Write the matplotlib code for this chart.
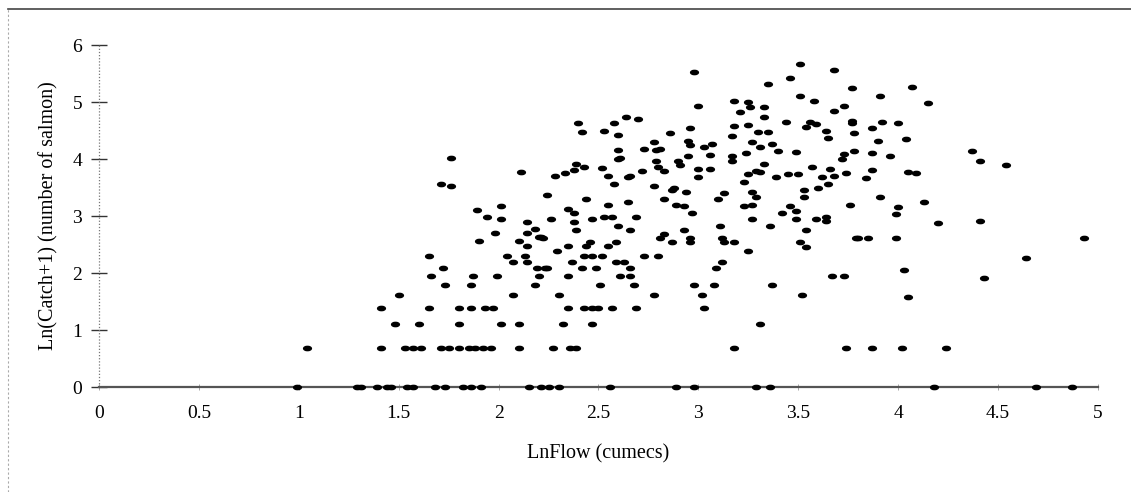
import matplotlib
matplotlib.use("Agg")
import matplotlib.pyplot as plt
from matplotlib.path import Path
from matplotlib.lines import Line2D

# ---- data: LnFlow (cumecs) vs Ln(Catch+1) ----
# zero-catch observations
flow_zero = [0.99, 1.29, 1.31, 1.39, 1.44, 1.46, 1.54, 1.57, 1.68, 1.73, 1.82, 1.86,
             1.91, 2.15, 2.21, 2.25, 2.30, 2.56, 2.89, 2.98, 3.29, 3.36, 4.18, 4.69, 4.87]
catch_zero = [0.0] * len(flow_zero)

# low catch (ln < 2.5)
flow_low = [1.04, 1.41, 1.53, 1.57, 1.61, 1.71, 1.75, 1.80, 1.85, 1.88, 1.92, 1.96, 2.10,
            2.27, 2.36, 2.39, 3.18, 3.74, 3.87, 4.02, 4.24,
            1.48, 1.60, 1.80, 2.01, 2.10, 2.32, 2.47, 3.31,
            1.41, 1.65, 1.80, 1.86, 1.93, 1.97, 2.35, 2.43, 2.47, 2.50, 2.57, 2.69, 3.03,
            1.50, 2.07, 2.30, 2.78, 3.02, 3.52, 4.05,
            1.73, 1.86, 2.18, 2.51, 2.68, 2.98, 3.08, 3.37,
            1.66, 1.87, 1.99, 2.20, 2.35, 2.61, 2.66, 3.67, 3.73, 4.43,
            1.72, 2.19, 2.23, 2.24, 2.42, 2.49, 2.66, 3.09, 4.03,
            2.07, 2.14, 2.37, 2.59, 2.63, 3.12,
            1.65, 2.04, 2.13, 2.43, 2.47, 2.52, 2.73, 2.80, 4.64,
            2.29, 3.25,
            2.14, 2.35, 2.44, 2.55, 3.54]
catch_low = [0.69] * 21 + [1.10] * 8 + [1.39] * 13 + [1.61, 1.61, 1.61, 1.61, 1.61, 1.61, 1.58] + \
            [1.79] * 8 + [1.95] * 9 + [1.92] + [2.08] * 8 + [2.06] + [2.20] * 6 + \
            [2.30] * 8 + [2.27] + [2.39, 2.39] + [2.48, 2.48, 2.48, 2.48, 2.46]

# mid catch (2.5 - 3.9)
flow_mid = [1.90, 2.10, 2.46, 2.59, 2.87, 2.96, 3.13, 3.18, 3.51,
            2.22, 2.81, 2.96, 3.12, 3.79, 3.80, 3.85, 3.99, 4.93,
            2.20, 2.21, 1.98, 2.14, 2.83,
            2.18, 2.39, 2.66, 2.93, 3.54,
            2.60, 3.11, 3.36, 4.20,
            2.14, 2.38,
            2.01, 2.26, 2.47, 3.27, 3.49, 3.59, 3.64, 4.41,
            1.94, 2.53, 2.57, 2.69, 3.64,
            2.38, 2.97, 3.42, 3.99,
            1.89, 2.01, 2.35, 3.49, 3.23, 3.46, 2.93, 4.00,
            2.55, 2.89, 3.27, 3.76, 4.13,
            2.65, 2.44, 2.83, 3.10, 3.29, 3.53, 3.91,
            2.24,
            3.13, 3.27, 3.53, 2.94, 2.87,
            1.71, 1.76, 2.58, 2.78, 2.88, 3.60, 3.65, 3.23,
            2.28, 2.33, 2.38, 2.55, 2.65, 2.66, 2.72, 2.83, 3.00, 3.00, 3.06, 3.25, 3.29,
            3.31, 3.39, 3.45, 3.50, 3.57, 3.62, 3.66, 3.68, 3.74, 3.84, 3.87, 4.05, 4.09,
            2.11, 2.43, 2.52, 2.80, 2.91]
catch_mid = [2.57, 2.57, 2.55, 2.55, 2.55, 2.55, 2.55, 2.55, 2.55,
             2.62, 2.62, 2.62, 2.62, 2.62, 2.62, 2.62, 2.62, 2.61,
             2.64, 2.64, 2.71, 2.71, 2.69,
             2.78, 2.76, 2.76, 2.76, 2.76,
             2.83, 2.83, 2.83, 2.87,
             2.89, 2.89,
             2.94, 2.94, 2.94, 2.94, 2.94, 2.94, 2.92, 2.92,
             2.99, 2.99, 2.99, 2.99, 2.98,
             3.05, 3.05, 3.05, 3.03,
             3.10, 3.17, 3.13, 3.08, 3.17, 3.17, 3.17, 3.15,
             3.20, 3.20, 3.20, 3.20, 3.24,
             3.25, 3.29, 3.29, 3.29, 3.33, 3.33, 3.34,
             3.36,
             3.40, 3.43, 3.45, 3.42, 3.45,
             3.56, 3.52, 3.56, 3.52, 3.49, 3.50, 3.56, 3.59,
             3.71, 3.75, 3.80, 3.71, 3.68, 3.71, 3.79, 3.79, 3.68, 3.82, 3.82, 3.73, 3.79,
             3.77, 3.68, 3.73, 3.73, 3.86, 3.68, 3.82, 3.71, 3.75, 3.66, 3.80, 3.77, 3.75,
             3.77, 3.86, 3.84, 3.86, 3.89]

# high catch (>= 3.9)
flow_high = [2.39, 2.79, 2.90, 3.17, 3.33, 3.72, 4.41, 4.54, 2.60, 2.61, 1.76,
             2.95, 3.06, 3.17, 3.24, 3.40, 3.49, 3.73, 3.78, 3.87, 3.96, 4.37,
             2.60, 2.73, 2.79, 2.81,
             3.03, 3.07, 3.31, 3.37, 3.27, 2.78, 2.95, 2.96, 3.17, 3.65, 3.90, 4.04,
             2.42, 2.53, 2.60, 2.86, 2.96, 3.30, 3.35, 3.64, 3.78, 3.18, 3.25, 3.54, 3.87,
             2.40, 2.58, 2.64, 2.70, 3.33, 3.44, 3.56, 3.59, 3.77, 3.77, 3.92, 4.00,
             3.21, 3.26, 3.33, 3.68, 3.73, 3.00, 3.18, 3.25, 3.58, 3.51, 3.91, 4.15,
             2.98, 3.35, 3.46, 3.51, 3.68, 3.77, 4.07]
catch_high = [3.91, 3.96, 3.96, 3.96, 3.91, 4.00, 3.96, 3.89, 4.00, 4.01, 4.01,
              4.05, 4.07, 4.05, 4.10, 4.14, 4.12, 4.08, 4.14, 4.10, 4.05, 4.14,
              4.15, 4.17, 4.15, 4.17,
              4.21, 4.26, 4.21, 4.26, 4.30, 4.30, 4.31, 4.24, 4.40, 4.37, 4.31, 4.35,
              4.47, 4.49, 4.42, 4.45, 4.54, 4.47, 4.47, 4.49, 4.45, 4.58, 4.60, 4.56, 4.54,
              4.63, 4.63, 4.74, 4.70, 4.74, 4.65, 4.65, 4.61, 4.67, 4.63, 4.65, 4.63,
              4.82, 4.91, 4.91, 4.84, 4.93, 4.93, 5.02, 5.00, 5.02, 5.10, 5.10, 4.98,
              5.53, 5.32, 5.42, 5.67, 5.56, 5.25, 5.27]

x_ticks = [0, 0.5, 1, 1.5, 2, 2.5, 3, 3.5, 4, 4.5, 5]
x_tick_labels = ["0", "0.5", "1", "1.5", "2", "2.5", "3", "3.5", "4", "4.5", "5"]
y_ticks = [0, 1, 2, 3, 4, 5, 6]

# ---- plotting ----
plt.rcParams['font.family'] = ['Liberation Serif', 'DejaVu Serif']

fig = plt.figure(figsize=(11.31, 4.92), dpi=100)
ax = fig.add_axes([0.0875, 0.2134, 0.8833, 0.6951])

circ = Path.unit_circle()
ellipse = Path(circ.vertices * [1.0, 0.55], circ.codes)

for fx, cy in [(flow_zero, catch_zero), (flow_low, catch_low),
               (flow_mid, catch_mid), (flow_high, catch_high)]:
    ax.plot(fx, cy, linestyle='none', marker=ellipse, markersize=5.6,
            color='black', clip_on=False, zorder=3)

ax.set_xlim(0, 5)
ax.set_ylim(0, 6)
for s in ['top', 'right', 'left']:
    ax.spines[s].set_visible(False)
ax.spines['bottom'].set_color('#555555')
ax.spines['bottom'].set_linewidth(1.6)

# dotted y axis
ax.add_line(Line2D([0, 0], [0, 6], color='#777777', linestyle=(0, (1, 1.5)),
                   linewidth=0.9, clip_on=False))

ax.set_xticks(x_ticks)
ax.set_xticklabels(x_tick_labels)
ax.set_yticks(y_ticks)
ax.tick_params(axis='y', direction='inout', length=12, width=1.0, color='#333333',
               labelsize=14, pad=6)
ax.tick_params(axis='x', direction='inout', length=4, width=0.6, color='#999999',
               labelsize=14, pad=11)

ax.set_xlabel("LnFlow (cumecs)", fontsize=14.5, labelpad=16)
ax.set_ylabel("Ln(Catch+1) (number of salmon)", fontsize=14.5, labelpad=10)

# figure frame
fig.add_artist(Line2D([8 / 1131, 1.0], [1 - 9 / 492, 1 - 9 / 492],
                      transform=fig.transFigure, color='#444444', linewidth=1.2))
fig.add_artist(Line2D([8 / 1131, 8 / 1131], [0.0, 1 - 9 / 492],
                      transform=fig.transFigure, color='#aaaaaa',
                      linestyle=(0, (2, 2)), linewidth=0.8))

fig.savefig("out.png", dpi=100)
